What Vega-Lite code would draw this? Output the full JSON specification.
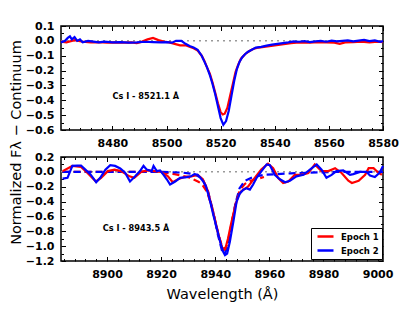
{
  "$schema": "https://vega.github.io/schema/vega-lite/v6.json",
  "padding": {"left": 7, "top": 19, "right": 5, "bottom": 5},
  "background": "white",
  "config": {
    "view": {"stroke": "black", "strokeWidth": 1.5},
    "axis": {
      "labelFont": "DejaVu Sans", "labelFontWeight": "bold", "labelFontSize": 11, "labelColor": "black",
      "tickColor": "black", "tickWidth": 1, "domain": false, "grid": false,
      "labelFlush": false, "labelOverlap": false, "labelBound": false,
      "titleFont": "DejaVu Sans", "titleFontWeight": "normal", "titleFontSize": 14.5, "titleColor": "black"
    },
    "legend": {
      "title": null, "strokeColor": "black", "fillColor": "white", "padding": 3,
      "labelFont": "DejaVu Sans", "labelFontWeight": "bold", "labelFontSize": 8.5, "labelColor": "black",
      "symbolStrokeWidth": 2.5, "symbolSize": 64, "symbolType": "M-2,0H2", "symbolOffset": 6, "rowPadding": 3,
      "cornerRadius": 0, "labelOffset": 10
    }
  },
  "datasets": {
    "top": [
      {"w": 8461, "f": -0.005, "epoch": "Epoch 1"}, {"w": 8463, "f": -0.01, "epoch": "Epoch 1"}, {"w": 8466, "f": 0.005, "epoch": "Epoch 1"},
      {"w": 8469, "f": -0.005, "epoch": "Epoch 1"}, {"w": 8472, "f": -0.01, "epoch": "Epoch 1"}, {"w": 8475, "f": -0.008, "epoch": "Epoch 1"},
      {"w": 8478, "f": -0.012, "epoch": "Epoch 1"}, {"w": 8481, "f": -0.01, "epoch": "Epoch 1"}, {"w": 8484, "f": -0.012, "epoch": "Epoch 1"},
      {"w": 8487, "f": -0.01, "epoch": "Epoch 1"}, {"w": 8489, "f": -0.015, "epoch": "Epoch 1"}, {"w": 8491, "f": -0.005, "epoch": "Epoch 1"},
      {"w": 8493, "f": 0.01, "epoch": "Epoch 1"}, {"w": 8495, "f": 0.02, "epoch": "Epoch 1"}, {"w": 8497, "f": 0.005, "epoch": "Epoch 1"},
      {"w": 8499, "f": -0.005, "epoch": "Epoch 1"}, {"w": 8501, "f": -0.01, "epoch": "Epoch 1"}, {"w": 8503, "f": -0.02, "epoch": "Epoch 1"},
      {"w": 8505, "f": -0.03, "epoch": "Epoch 1"}, {"w": 8507, "f": -0.03, "epoch": "Epoch 1"}, {"w": 8508.5, "f": -0.04, "epoch": "Epoch 1"},
      {"w": 8510, "f": -0.05, "epoch": "Epoch 1"}, {"w": 8511.5, "f": -0.065, "epoch": "Epoch 1"}, {"w": 8513, "f": -0.1, "epoch": "Epoch 1"},
      {"w": 8514, "f": -0.135, "epoch": "Epoch 1"}, {"w": 8515, "f": -0.18, "epoch": "Epoch 1"}, {"w": 8516, "f": -0.22, "epoch": "Epoch 1"},
      {"w": 8517, "f": -0.28, "epoch": "Epoch 1"}, {"w": 8518, "f": -0.35, "epoch": "Epoch 1"}, {"w": 8519, "f": -0.42, "epoch": "Epoch 1"},
      {"w": 8520, "f": -0.48, "epoch": "Epoch 1"}, {"w": 8520.8, "f": -0.495, "epoch": "Epoch 1"}, {"w": 8521.5, "f": -0.49, "epoch": "Epoch 1"},
      {"w": 8522.5, "f": -0.45, "epoch": "Epoch 1"}, {"w": 8523.5, "f": -0.37, "epoch": "Epoch 1"}, {"w": 8524.5, "f": -0.29, "epoch": "Epoch 1"},
      {"w": 8525.5, "f": -0.21, "epoch": "Epoch 1"}, {"w": 8526.5, "f": -0.16, "epoch": "Epoch 1"}, {"w": 8527.5, "f": -0.12, "epoch": "Epoch 1"},
      {"w": 8529, "f": -0.09, "epoch": "Epoch 1"}, {"w": 8530.5, "f": -0.07, "epoch": "Epoch 1"}, {"w": 8532, "f": -0.055, "epoch": "Epoch 1"},
      {"w": 8534, "f": -0.045, "epoch": "Epoch 1"}, {"w": 8536, "f": -0.04, "epoch": "Epoch 1"}, {"w": 8538, "f": -0.035, "epoch": "Epoch 1"},
      {"w": 8540, "f": -0.03, "epoch": "Epoch 1"}, {"w": 8542, "f": -0.025, "epoch": "Epoch 1"}, {"w": 8544, "f": -0.02, "epoch": "Epoch 1"},
      {"w": 8546, "f": -0.015, "epoch": "Epoch 1"}, {"w": 8548, "f": -0.012, "epoch": "Epoch 1"}, {"w": 8550, "f": -0.01, "epoch": "Epoch 1"},
      {"w": 8553, "f": -0.012, "epoch": "Epoch 1"}, {"w": 8556, "f": -0.008, "epoch": "Epoch 1"}, {"w": 8559, "f": -0.01, "epoch": "Epoch 1"},
      {"w": 8562, "f": -0.012, "epoch": "Epoch 1"}, {"w": 8564, "f": -0.02, "epoch": "Epoch 1"}, {"w": 8566, "f": -0.01, "epoch": "Epoch 1"},
      {"w": 8569, "f": -0.008, "epoch": "Epoch 1"}, {"w": 8572, "f": -0.005, "epoch": "Epoch 1"}, {"w": 8575, "f": -0.01, "epoch": "Epoch 1"},
      {"w": 8578, "f": -0.005, "epoch": "Epoch 1"}, {"w": 8580, "f": -0.008, "epoch": "Epoch 1"},
      {"w": 8461, "f": -0.01, "epoch": "Epoch 2"}, {"w": 8462.5, "f": 0.0, "epoch": "Epoch 2"}, {"w": 8463.5, "f": 0.02, "epoch": "Epoch 2"},
      {"w": 8464.3, "f": 0.03, "epoch": "Epoch 2"}, {"w": 8465, "f": 0.01, "epoch": "Epoch 2"}, {"w": 8466, "f": 0.025, "epoch": "Epoch 2"},
      {"w": 8467, "f": 0.0, "epoch": "Epoch 2"}, {"w": 8468, "f": 0.01, "epoch": "Epoch 2"}, {"w": 8469, "f": -0.01, "epoch": "Epoch 2"},
      {"w": 8471, "f": 0.0, "epoch": "Epoch 2"}, {"w": 8473, "f": -0.005, "epoch": "Epoch 2"}, {"w": 8475, "f": -0.01, "epoch": "Epoch 2"},
      {"w": 8477, "f": -0.005, "epoch": "Epoch 2"}, {"w": 8480, "f": -0.01, "epoch": "Epoch 2"}, {"w": 8483, "f": -0.008, "epoch": "Epoch 2"},
      {"w": 8486, "f": -0.012, "epoch": "Epoch 2"}, {"w": 8489, "f": -0.01, "epoch": "Epoch 2"}, {"w": 8492, "f": -0.006, "epoch": "Epoch 2"},
      {"w": 8495, "f": -0.008, "epoch": "Epoch 2"}, {"w": 8498, "f": -0.01, "epoch": "Epoch 2"}, {"w": 8500, "f": -0.008, "epoch": "Epoch 2"},
      {"w": 8502, "f": -0.012, "epoch": "Epoch 2"}, {"w": 8503.5, "f": 0.0, "epoch": "Epoch 2"}, {"w": 8505.5, "f": 0.0, "epoch": "Epoch 2"},
      {"w": 8507, "f": -0.02, "epoch": "Epoch 2"}, {"w": 8508.5, "f": -0.035, "epoch": "Epoch 2"}, {"w": 8510, "f": -0.045, "epoch": "Epoch 2"},
      {"w": 8511.5, "f": -0.06, "epoch": "Epoch 2"}, {"w": 8513, "f": -0.1, "epoch": "Epoch 2"}, {"w": 8514, "f": -0.14, "epoch": "Epoch 2"},
      {"w": 8515, "f": -0.18, "epoch": "Epoch 2"}, {"w": 8516, "f": -0.23, "epoch": "Epoch 2"}, {"w": 8517, "f": -0.29, "epoch": "Epoch 2"},
      {"w": 8518, "f": -0.36, "epoch": "Epoch 2"}, {"w": 8519, "f": -0.44, "epoch": "Epoch 2"}, {"w": 8520, "f": -0.52, "epoch": "Epoch 2"},
      {"w": 8521, "f": -0.565, "epoch": "Epoch 2"}, {"w": 8522, "f": -0.54, "epoch": "Epoch 2"}, {"w": 8523, "f": -0.47, "epoch": "Epoch 2"},
      {"w": 8524, "f": -0.37, "epoch": "Epoch 2"}, {"w": 8525, "f": -0.27, "epoch": "Epoch 2"}, {"w": 8526, "f": -0.19, "epoch": "Epoch 2"},
      {"w": 8527, "f": -0.14, "epoch": "Epoch 2"}, {"w": 8528, "f": -0.11, "epoch": "Epoch 2"}, {"w": 8529, "f": -0.09, "epoch": "Epoch 2"},
      {"w": 8530, "f": -0.075, "epoch": "Epoch 2"}, {"w": 8531.5, "f": -0.06, "epoch": "Epoch 2"}, {"w": 8533, "f": -0.045, "epoch": "Epoch 2"},
      {"w": 8535, "f": -0.04, "epoch": "Epoch 2"}, {"w": 8537, "f": -0.032, "epoch": "Epoch 2"}, {"w": 8539, "f": -0.025, "epoch": "Epoch 2"},
      {"w": 8541, "f": -0.02, "epoch": "Epoch 2"}, {"w": 8543, "f": -0.015, "epoch": "Epoch 2"}, {"w": 8545, "f": -0.01, "epoch": "Epoch 2"},
      {"w": 8547, "f": -0.004, "epoch": "Epoch 2"}, {"w": 8549, "f": -0.006, "epoch": "Epoch 2"}, {"w": 8551, "f": -0.002, "epoch": "Epoch 2"},
      {"w": 8553, "f": -0.008, "epoch": "Epoch 2"}, {"w": 8555, "f": -0.003, "epoch": "Epoch 2"}, {"w": 8557, "f": 0.0, "epoch": "Epoch 2"},
      {"w": 8559, "f": -0.006, "epoch": "Epoch 2"}, {"w": 8561, "f": 0.002, "epoch": "Epoch 2"}, {"w": 8563, "f": -0.004, "epoch": "Epoch 2"},
      {"w": 8565, "f": 0.0, "epoch": "Epoch 2"}, {"w": 8567, "f": 0.003, "epoch": "Epoch 2"}, {"w": 8569, "f": -0.003, "epoch": "Epoch 2"},
      {"w": 8571, "f": 0.002, "epoch": "Epoch 2"}, {"w": 8573, "f": 0.006, "epoch": "Epoch 2"}, {"w": 8575, "f": -0.002, "epoch": "Epoch 2"},
      {"w": 8577, "f": 0.003, "epoch": "Epoch 2"}, {"w": 8579, "f": -0.006, "epoch": "Epoch 2"}, {"w": 8580, "f": -0.002, "epoch": "Epoch 2"}
    ],
    "bottom": [
      {"w": 8883.6, "f": 0.01, "epoch": "Epoch 1"}, {"w": 8887.2, "f": 0.08, "epoch": "Epoch 1"}, {"w": 8890.4, "f": 0.065, "epoch": "Epoch 1"},
      {"w": 8892.8, "f": -0.015, "epoch": "Epoch 1"}, {"w": 8895.9, "f": -0.13, "epoch": "Epoch 1"}, {"w": 8897.8, "f": -0.08, "epoch": "Epoch 1"},
      {"w": 8900.3, "f": 0.01, "epoch": "Epoch 1"}, {"w": 8902.8, "f": 0.03, "epoch": "Epoch 1"}, {"w": 8905.2, "f": 0.01, "epoch": "Epoch 1"},
      {"w": 8908.3, "f": -0.06, "epoch": "Epoch 1"}, {"w": 8910.1, "f": -0.08, "epoch": "Epoch 1"}, {"w": 8912.6, "f": 0.0, "epoch": "Epoch 1"},
      {"w": 8915.1, "f": 0.02, "epoch": "Epoch 1"}, {"w": 8917.5, "f": 0.01, "epoch": "Epoch 1"}, {"w": 8920, "f": 0.0, "epoch": "Epoch 1"},
      {"w": 8922.5, "f": -0.06, "epoch": "Epoch 1"}, {"w": 8924.3, "f": -0.14, "epoch": "Epoch 1"}, {"w": 8926.2, "f": -0.1, "epoch": "Epoch 1"},
      {"w": 8928.6, "f": -0.07, "epoch": "Epoch 1"}, {"w": 8931.1, "f": -0.06, "epoch": "Epoch 1"}, {"w": 8933.5, "f": -0.04, "epoch": "Epoch 1"},
      {"w": 8935.4, "f": -0.1, "epoch": "Epoch 1"}, {"w": 8937.3, "f": -0.26, "epoch": "Epoch 1"}, {"w": 8939.8, "f": -0.63, "epoch": "Epoch 1"},
      {"w": 8941.6, "f": -0.9, "epoch": "Epoch 1"}, {"w": 8942.9, "f": -1.06, "epoch": "Epoch 1"}, {"w": 8943.7, "f": -1.04, "epoch": "Epoch 1"},
      {"w": 8944.7, "f": -0.9, "epoch": "Epoch 1"}, {"w": 8945.9, "f": -0.69, "epoch": "Epoch 1"}, {"w": 8947.2, "f": -0.49, "epoch": "Epoch 1"},
      {"w": 8948.4, "f": -0.33, "epoch": "Epoch 1"}, {"w": 8949.6, "f": -0.26, "epoch": "Epoch 1"}, {"w": 8952.1, "f": -0.2, "epoch": "Epoch 1"},
      {"w": 8954.6, "f": -0.08, "epoch": "Epoch 1"}, {"w": 8957.0, "f": 0.03, "epoch": "Epoch 1"}, {"w": 8959.5, "f": 0.11, "epoch": "Epoch 1"},
      {"w": 8961.4, "f": 0.05, "epoch": "Epoch 1"}, {"w": 8963.2, "f": -0.08, "epoch": "Epoch 1"}, {"w": 8965.1, "f": -0.15, "epoch": "Epoch 1"},
      {"w": 8967, "f": -0.13, "epoch": "Epoch 1"}, {"w": 8969.4, "f": -0.04, "epoch": "Epoch 1"}, {"w": 8971.9, "f": -0.04, "epoch": "Epoch 1"},
      {"w": 8974.4, "f": -0.015, "epoch": "Epoch 1"}, {"w": 8976.8, "f": 0.1, "epoch": "Epoch 1"}, {"w": 8979.3, "f": 0.01, "epoch": "Epoch 1"},
      {"w": 8981.8, "f": 0.01, "epoch": "Epoch 1"}, {"w": 8984.3, "f": 0.05, "epoch": "Epoch 1"}, {"w": 8986.7, "f": -0.015, "epoch": "Epoch 1"},
      {"w": 8989.2, "f": -0.12, "epoch": "Epoch 1"}, {"w": 8990.5, "f": -0.15, "epoch": "Epoch 1"}, {"w": 8993, "f": -0.12, "epoch": "Epoch 1"},
      {"w": 8995.4, "f": -0.04, "epoch": "Epoch 1"}, {"w": 8996.7, "f": 0.05, "epoch": "Epoch 1"}, {"w": 8998.5, "f": 0.05, "epoch": "Epoch 1"},
      {"w": 9000.4, "f": -0.015, "epoch": "Epoch 1"}, {"w": 9001.6, "f": -0.04, "epoch": "Epoch 1"},
      {"w": 8883.6, "f": -0.09, "epoch": "Epoch 2"}, {"w": 8885.4, "f": -0.08, "epoch": "Epoch 2"}, {"w": 8887.2, "f": 0.08, "epoch": "Epoch 2"},
      {"w": 8889, "f": 0.085, "epoch": "Epoch 2"}, {"w": 8890.4, "f": 0.085, "epoch": "Epoch 2"}, {"w": 8892, "f": 0.03, "epoch": "Epoch 2"},
      {"w": 8893.9, "f": -0.035, "epoch": "Epoch 2"}, {"w": 8896, "f": -0.14, "epoch": "Epoch 2"}, {"w": 8897.5, "f": -0.08, "epoch": "Epoch 2"},
      {"w": 8899.4, "f": 0.03, "epoch": "Epoch 2"}, {"w": 8901.2, "f": 0.09, "epoch": "Epoch 2"}, {"w": 8903, "f": 0.08, "epoch": "Epoch 2"},
      {"w": 8904.9, "f": 0.045, "epoch": "Epoch 2"}, {"w": 8906.7, "f": -0.01, "epoch": "Epoch 2"}, {"w": 8908.5, "f": -0.13, "epoch": "Epoch 2"},
      {"w": 8910.4, "f": -0.06, "epoch": "Epoch 2"}, {"w": 8912.2, "f": 0.01, "epoch": "Epoch 2"}, {"w": 8913.5, "f": 0.08, "epoch": "Epoch 2"},
      {"w": 8914.7, "f": 0.03, "epoch": "Epoch 2"}, {"w": 8916.5, "f": 0.01, "epoch": "Epoch 2"}, {"w": 8917.2, "f": 0.08, "epoch": "Epoch 2"},
      {"w": 8918.4, "f": 0.01, "epoch": "Epoch 2"}, {"w": 8919.6, "f": 0.02, "epoch": "Epoch 2"}, {"w": 8920.9, "f": -0.04, "epoch": "Epoch 2"},
      {"w": 8922.1, "f": -0.1, "epoch": "Epoch 2"}, {"w": 8923.3, "f": -0.17, "epoch": "Epoch 2"}, {"w": 8925.2, "f": -0.13, "epoch": "Epoch 2"},
      {"w": 8927, "f": -0.08, "epoch": "Epoch 2"}, {"w": 8929.5, "f": -0.07, "epoch": "Epoch 2"}, {"w": 8931, "f": -0.06, "epoch": "Epoch 2"},
      {"w": 8932.3, "f": -0.03, "epoch": "Epoch 2"}, {"w": 8933.5, "f": -0.04, "epoch": "Epoch 2"}, {"w": 8934.5, "f": -0.08, "epoch": "Epoch 2"},
      {"w": 8935.6, "f": -0.13, "epoch": "Epoch 2"}, {"w": 8936.6, "f": -0.2, "epoch": "Epoch 2"}, {"w": 8937.5, "f": -0.31, "epoch": "Epoch 2"},
      {"w": 8938.4, "f": -0.44, "epoch": "Epoch 2"}, {"w": 8939.3, "f": -0.58, "epoch": "Epoch 2"}, {"w": 8940.3, "f": -0.72, "epoch": "Epoch 2"},
      {"w": 8941.2, "f": -0.85, "epoch": "Epoch 2"}, {"w": 8942.1, "f": -0.98, "epoch": "Epoch 2"}, {"w": 8943, "f": -1.08, "epoch": "Epoch 2"},
      {"w": 8943.6, "f": -1.12, "epoch": "Epoch 2"}, {"w": 8944.4, "f": -1.1, "epoch": "Epoch 2"}, {"w": 8945.4, "f": -0.94, "epoch": "Epoch 2"},
      {"w": 8946.7, "f": -0.67, "epoch": "Epoch 2"}, {"w": 8947.9, "f": -0.4, "epoch": "Epoch 2"}, {"w": 8949.1, "f": -0.29, "epoch": "Epoch 2"},
      {"w": 8950.4, "f": -0.24, "epoch": "Epoch 2"}, {"w": 8951.5, "f": -0.22, "epoch": "Epoch 2"}, {"w": 8952.8, "f": -0.24, "epoch": "Epoch 2"},
      {"w": 8954, "f": -0.17, "epoch": "Epoch 2"}, {"w": 8955.3, "f": -0.08, "epoch": "Epoch 2"}, {"w": 8957.1, "f": 0.01, "epoch": "Epoch 2"},
      {"w": 8959, "f": 0.1, "epoch": "Epoch 2"}, {"w": 8960.2, "f": 0.09, "epoch": "Epoch 2"}, {"w": 8962, "f": -0.04, "epoch": "Epoch 2"},
      {"w": 8963.9, "f": -0.1, "epoch": "Epoch 2"}, {"w": 8965.8, "f": -0.14, "epoch": "Epoch 2"}, {"w": 8967.6, "f": -0.12, "epoch": "Epoch 2"},
      {"w": 8970, "f": -0.06, "epoch": "Epoch 2"}, {"w": 8972.6, "f": -0.04, "epoch": "Epoch 2"}, {"w": 8975, "f": 0.03, "epoch": "Epoch 2"},
      {"w": 8977.5, "f": 0.1, "epoch": "Epoch 2"}, {"w": 8979.3, "f": 0.03, "epoch": "Epoch 2"}, {"w": 8981.1, "f": -0.08, "epoch": "Epoch 2"},
      {"w": 8983, "f": -0.04, "epoch": "Epoch 2"}, {"w": 8984.8, "f": 0.01, "epoch": "Epoch 2"}, {"w": 8987.3, "f": 0.02, "epoch": "Epoch 2"},
      {"w": 8989.8, "f": -0.04, "epoch": "Epoch 2"}, {"w": 8991, "f": -0.03, "epoch": "Epoch 2"}, {"w": 8993.5, "f": 0.0, "epoch": "Epoch 2"},
      {"w": 8995.9, "f": 0.0, "epoch": "Epoch 2"}, {"w": 8997.2, "f": -0.05, "epoch": "Epoch 2"}, {"w": 8999, "f": -0.07, "epoch": "Epoch 2"},
      {"w": 9000.8, "f": -0.01, "epoch": "Epoch 2"}, {"w": 9002, "f": 0.08, "epoch": "Epoch 2"}
    ],
    "fit": [
      {"w": 8883.6, "f": 0.0, "epoch": "Epoch 1"}, {"w": 8900, "f": 0.0, "epoch": "Epoch 1"}, {"w": 8919, "f": 0.0, "epoch": "Epoch 1"},
      {"w": 8925, "f": -0.03, "epoch": "Epoch 1"}, {"w": 8930, "f": -0.07, "epoch": "Epoch 1"}, {"w": 8933.6, "f": -0.13, "epoch": "Epoch 1"},
      {"w": 8935, "f": -0.16, "epoch": "Epoch 1"}, {"w": 8937, "f": -0.27, "epoch": "Epoch 1"}, {"w": 8939, "f": -0.5, "epoch": "Epoch 1"},
      {"w": 8941, "f": -0.82, "epoch": "Epoch 1"}, {"w": 8942.5, "f": -1.0, "epoch": "Epoch 1"}, {"w": 8943.5, "f": -1.04, "epoch": "Epoch 1"},
      {"w": 8944.5, "f": -0.98, "epoch": "Epoch 1"}, {"w": 8946, "f": -0.7, "epoch": "Epoch 1"}, {"w": 8947.5, "f": -0.43, "epoch": "Epoch 1"},
      {"w": 8949, "f": -0.25, "epoch": "Epoch 1"}, {"w": 8951, "f": -0.16, "epoch": "Epoch 1"}, {"w": 8953, "f": -0.12, "epoch": "Epoch 1"},
      {"w": 8955, "f": -0.1, "epoch": "Epoch 1"}, {"w": 8958, "f": -0.07, "epoch": "Epoch 1"},
      {"w": 8883.6, "f": 0.0, "epoch": "Epoch 2"}, {"w": 8920, "f": 0.0, "epoch": "Epoch 2"}, {"w": 8928, "f": -0.01, "epoch": "Epoch 2"},
      {"w": 8932, "f": -0.03, "epoch": "Epoch 2"}, {"w": 8935, "f": -0.08, "epoch": "Epoch 2"}, {"w": 8937, "f": -0.22, "epoch": "Epoch 2"},
      {"w": 8939, "f": -0.5, "epoch": "Epoch 2"}, {"w": 8941, "f": -0.85, "epoch": "Epoch 2"}, {"w": 8942.5, "f": -1.06, "epoch": "Epoch 2"},
      {"w": 8943.5, "f": -1.1, "epoch": "Epoch 2"}, {"w": 8944.5, "f": -1.02, "epoch": "Epoch 2"}, {"w": 8946, "f": -0.72, "epoch": "Epoch 2"},
      {"w": 8947.5, "f": -0.42, "epoch": "Epoch 2"}, {"w": 8949, "f": -0.22, "epoch": "Epoch 2"}, {"w": 8951, "f": -0.12, "epoch": "Epoch 2"},
      {"w": 8954, "f": -0.07, "epoch": "Epoch 2"}, {"w": 8958, "f": -0.04, "epoch": "Epoch 2"}, {"w": 8963, "f": -0.03, "epoch": "Epoch 2"},
      {"w": 8968, "f": -0.02, "epoch": "Epoch 2"}, {"w": 8975, "f": -0.01, "epoch": "Epoch 2"}, {"w": 8985, "f": 0.0, "epoch": "Epoch 2"},
      {"w": 9002, "f": 0.0, "epoch": "Epoch 2"}
    ]
  },
  "bounds": "flush",
  "spacing": 27,
  "resolve": {"scale": {"color": "independent"}, "legend": {"color": "independent"}},
  "vconcat": [
    {
      "width": 322, "height": 104,
      "resolve": {"axis": {"x": "independent", "y": "independent"}},
      "layer": [
        {
          "data": {"values": [{}]},
          "mark": {"type": "rule", "color": "#999999", "strokeDash": [2, 4], "strokeWidth": 1.5},
          "encoding": {
            "x": {"datum": 8461, "type": "quantitative", "scale": {"domain": [8461, 8580], "nice": false, "zero": false},
                  "axis": {"orient": "top", "values": [8464, 8468, 8472, 8476, 8484, 8488, 8492, 8496, 8504, 8508, 8512, 8516, 8524, 8528, 8532, 8536, 8544, 8548, 8552, 8556, 8564, 8568, 8572, 8576], "labels": false, "tickSize": -2.5, "title": null}},
            "x2": {"datum": 8580},
            "y": {"datum": 0, "type": "quantitative", "scale": {"domain": [-0.6, 0.1], "nice": false, "zero": false},
                  "axis": {"orient": "left", "values": [0.1, 0, -0.1, -0.2, -0.3, -0.4, -0.5, -0.6], "format": ".1f", "tickSize": -4.5, "labelPadding": 11.5,
                           "title": "Normalized Fλ − Continuum", "titleAngle": 270, "titleX": -41, "titleY": 116, "titleAlign": "center", "titleBaseline": "alphabetic", "titleAnchor": null}}
          }
        },
        {
          "data": {"name": "top"},
          "transform": [{"filter": "datum.epoch == 'Epoch 1'"}],
          "mark": {"type": "line", "color": "#ff0000", "strokeWidth": 2.2},
          "encoding": {
            "x": {"field": "w", "type": "quantitative", "scale": {"domain": [8461, 8580], "nice": false, "zero": false},
                  "axis": {"orient": "bottom", "values": [8480, 8500, 8520, 8540, 8560, 8580], "format": "d", "tickSize": -4.5, "labelPadding": 12, "title": null}},
            "y": {"field": "f", "type": "quantitative", "scale": {"domain": [-0.6, 0.1], "nice": false, "zero": false},
                  "axis": {"orient": "right", "values": [0.1, 0, -0.1, -0.2, -0.3, -0.4, -0.5, -0.6], "labels": false, "tickSize": -4.5, "title": null}}
          }
        },
        {
          "data": {"name": "top"},
          "transform": [{"filter": "datum.epoch == 'Epoch 2'"}],
          "mark": {"type": "line", "color": "#0000ff", "strokeWidth": 2.2},
          "encoding": {
            "x": {"field": "w", "type": "quantitative", "scale": {"domain": [8461, 8580], "nice": false, "zero": false},
                  "axis": {"orient": "top", "values": [8480, 8500, 8520, 8540, 8560, 8580], "labels": false, "tickSize": -4.5, "title": null}},
            "y": {"field": "f", "type": "quantitative", "scale": {"domain": [-0.6, 0.1], "nice": false, "zero": false},
                  "axis": {"orient": "left", "values": [0.05, -0.05, -0.15, -0.25, -0.35, -0.45, -0.55], "labels": false, "tickSize": -2.5, "title": null}}
          }
        },
        {
          "data": {"values": [{}]},
          "mark": {"type": "text", "align": "left", "baseline": "middle", "font": "DejaVu Sans", "fontWeight": "bold", "fontSize": 8.2, "color": "black"},
          "encoding": {
            "x": {"datum": 8480, "type": "quantitative", "scale": {"domain": [8461, 8580], "nice": false, "zero": false},
                  "axis": {"orient": "bottom", "values": [8464, 8468, 8472, 8476, 8484, 8488, 8492, 8496, 8504, 8508, 8512, 8516, 8524, 8528, 8532, 8536, 8544, 8548, 8552, 8556, 8564, 8568, 8572, 8576], "labels": false, "tickSize": -2.5, "title": null}},
            "y": {"datum": -0.38, "type": "quantitative", "scale": {"domain": [-0.6, 0.1], "nice": false, "zero": false},
                  "axis": {"orient": "right", "values": [0.05, -0.05, -0.15, -0.25, -0.35, -0.45, -0.55], "labels": false, "tickSize": -2.5, "title": null}},
            "text": {"value": "Cs I - 8521.1 Å"}
          }
        }
      ]
    },
    {
      "width": 322, "height": 104,
      "resolve": {"axis": {"x": "independent", "y": "independent"}},
      "layer": [
        {
          "data": {"values": [{}]},
          "mark": {"type": "rule", "color": "#999999", "strokeDash": [2, 4], "strokeWidth": 1.5},
          "encoding": {
            "x": {"datum": 8883, "type": "quantitative", "scale": {"domain": [8883, 9002], "nice": false, "zero": false},
                  "axis": {"orient": "top", "values": [8884, 8888, 8892, 8896, 8904, 8908, 8912, 8916, 8924, 8928, 8932, 8936, 8944, 8948, 8952, 8956, 8964, 8968, 8972, 8976, 8984, 8988, 8992, 8996], "labels": false, "tickSize": -2.5, "title": null}},
            "x2": {"datum": 9002},
            "y": {"datum": 0, "type": "quantitative", "scale": {"domain": [-1.2, 0.2], "nice": false, "zero": false},
                  "axis": {"orient": "left", "values": [0.2, 0, -0.2, -0.4, -0.6, -0.8, -1.0, -1.2], "format": ".1f", "tickSize": -4.5, "labelPadding": 11.5, "title": null}}
          }
        },
        {
          "data": {"name": "fit"},
          "transform": [{"filter": "datum.epoch == 'Epoch 1'"}],
          "mark": {"type": "line", "color": "#ff0000", "strokeWidth": 2.2, "strokeDash": [7, 4]},
          "encoding": {
            "x": {"field": "w", "type": "quantitative", "scale": {"domain": [8883, 9002], "nice": false, "zero": false},
                  "axis": {"orient": "bottom", "values": [8900, 8920, 8940, 8960, 8980, 9000], "format": "d", "tickSize": -4.5, "labelPadding": 12,
                           "title": "Wavelength (Å)", "titlePadding": 8}},
            "y": {"field": "f", "type": "quantitative", "scale": {"domain": [-1.2, 0.2], "nice": false, "zero": false},
                  "axis": {"orient": "right", "values": [0.2, 0, -0.2, -0.4, -0.6, -0.8, -1.0, -1.2], "labels": false, "tickSize": -4.5, "title": null}}
          }
        },
        {
          "data": {"name": "fit"},
          "transform": [{"filter": "datum.epoch == 'Epoch 2'"}],
          "mark": {"type": "line", "color": "#0000ff", "strokeWidth": 2.2, "strokeDash": [7, 4]},
          "encoding": {
            "x": {"field": "w", "type": "quantitative", "scale": {"domain": [8883, 9002], "nice": false, "zero": false},
                  "axis": {"orient": "top", "values": [8900, 8920, 8940, 8960, 8980, 9000], "labels": false, "tickSize": -4.5, "title": null}},
            "y": {"field": "f", "type": "quantitative", "scale": {"domain": [-1.2, 0.2], "nice": false, "zero": false},
                  "axis": {"orient": "left", "values": [0.1, -0.1, -0.3, -0.5, -0.7, -0.9, -1.1], "labels": false, "tickSize": -2.5, "title": null}}
          }
        },
        {
          "data": {"name": "bottom"},
          "mark": {"type": "line", "strokeWidth": 2.2},
          "encoding": {
            "x": {"field": "w", "type": "quantitative", "scale": {"domain": [8883, 9002], "nice": false, "zero": false},
                  "axis": {"orient": "bottom", "values": [8884, 8888, 8892, 8896, 8904, 8908, 8912, 8916, 8924, 8928, 8932, 8936, 8944, 8948, 8952, 8956, 8964, 8968, 8972, 8976, 8984, 8988, 8992, 8996], "labels": false, "tickSize": -2.5, "title": null}},
            "y": {"field": "f", "type": "quantitative", "scale": {"domain": [-1.2, 0.2], "nice": false, "zero": false},
                  "axis": {"orient": "right", "values": [0.1, -0.1, -0.3, -0.5, -0.7, -0.9, -1.1], "labels": false, "tickSize": -2.5, "title": null}},
            "color": {"field": "epoch", "type": "nominal", "scale": {"domain": ["Epoch 1", "Epoch 2"], "range": ["#ff0000", "#0000ff"]},
                      "legend": {"orient": "none", "legendX": 250, "legendY": 71}}
          }
        },
        {
          "data": {"values": [{}]},
          "mark": {"type": "text", "align": "left", "baseline": "middle", "font": "DejaVu Sans", "fontWeight": "bold", "fontSize": 8.2, "color": "black"},
          "encoding": {
            "x": {"datum": 8898.4, "type": "quantitative", "scale": {"domain": [8883, 9002], "nice": false, "zero": false}, "axis": null},
            "y": {"datum": -0.77, "type": "quantitative", "scale": {"domain": [-1.2, 0.2], "nice": false, "zero": false}, "axis": null},
            "text": {"value": "Cs I - 8943.5 Å"}
          }
        }
      ]
    }
  ]
}
